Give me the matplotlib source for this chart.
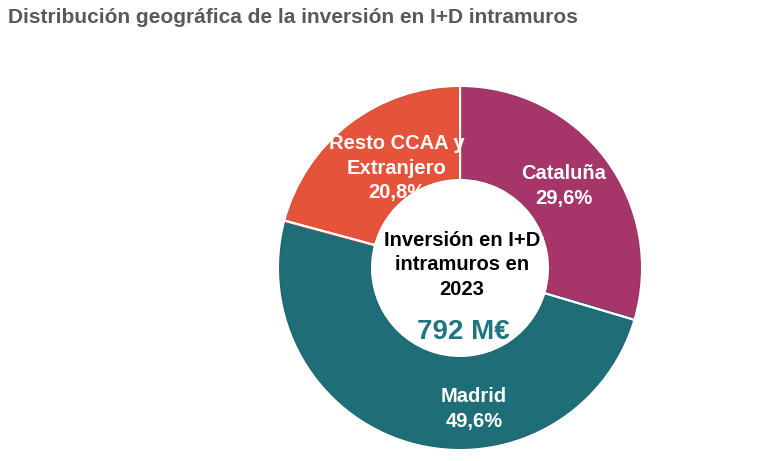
import matplotlib
matplotlib.use('Agg')
import matplotlib.pyplot as plt
from matplotlib.patches import Circle

# Data
regions = ['Cataluña', 'Madrid', 'Resto CCAA y\nExtranjero']
shares = [29.6, 49.6, 20.8]
pct_labels = ['29,6%', '49,6%', '20,8%']
colors = ['#A63669', '#1E6E78', '#E5543A']
edge_colors = ['#93305D', '#1A626B', '#D04B33']
total_label = '792 M€'
center_title = 'Inversión en I+D\nintramuros en\n2023'
title = 'Distribución geográfica de la inversión en I+D intramuros'

plt.rcParams['font.family'] = ['Liberation Sans', 'DejaVu Sans']

W, H = 783, 461
fig = plt.figure(figsize=(W / 100, H / 100), dpi=100)
ax = fig.add_axes([0, 0, 1, 1])

cx, cy = 460, H - 268
r_out, r_in = 182, 88

# Darker outline first, then a thinner white stroke on top for the gaps
ax.pie(shares, colors=colors, center=(cx, cy), radius=r_out, startangle=90,
       counterclock=False,
       wedgeprops=dict(width=r_out - r_in, linewidth=2.6))
for w, ec in zip(ax.patches, edge_colors):
    w.set_edgecolor(ec)
ax.pie(shares, colors=['none'] * 3, center=(cx, cy), radius=r_out, startangle=90,
       counterclock=False,
       wedgeprops=dict(width=r_out - r_in, linewidth=1.5, edgecolor='white'))
# clean the outline that spills outside the ring
ax.add_patch(Circle((cx, cy), r_out + 1.6, fill=False, ec='white', lw=2.0))
ax.add_patch(Circle((cx, cy), r_in - 1.6, fill=False, ec='white', lw=2.0))

ax.set_xlim(0, W)
ax.set_ylim(0, H)
ax.set_aspect('auto')
ax.axis('off')

# Slice labels
label_pos = [(564, 186), (474, 409), (397, 168)]
for (x, y), name, pct in zip(label_pos, regions, pct_labels):
    ax.text(x, H - y, name + '\n' + pct, ha='center', va='center',
            fontsize=14.5, fontweight='bold', color='white', linespacing=1.38)

# Centre text
ax.text(462, H - 265, center_title, ha='center', va='center', fontsize=14.5,
        fontweight='bold', color='black', linespacing=1.38)
ax.text(463, H - 332, total_label, ha='center', va='center', fontsize=20,
        fontweight='bold', color='#1F7580')

ax.text(8, H - 18, title, ha='left', va='center', fontsize=15,
        fontweight='bold', color='#595959')

fig.savefig('out.png', dpi=100)
